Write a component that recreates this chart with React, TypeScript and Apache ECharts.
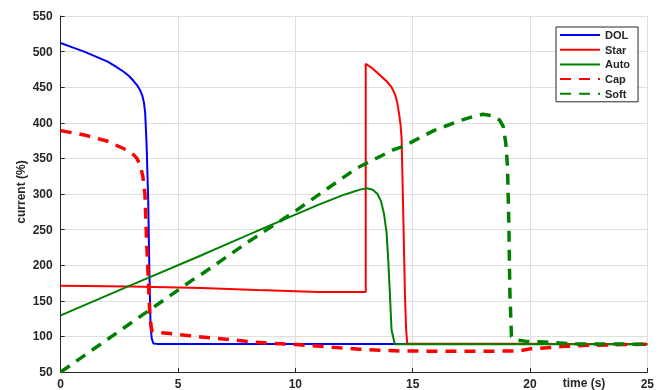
import React, { useEffect, useRef } from "react";
import * as echarts from "echarts";

const seriesNames = ["DOL", "Star", "Auto", "Cap", "Soft"];

const dolT = [0, 0.5, 1, 1.5, 2, 2.3, 2.67, 2.9, 3.1, 3.25, 3.38, 3.48, 3.55, 3.6, 3.66, 3.73, 3.78, 3.83, 3.88, 3.95, 4.1, 25];
const dolV = [512, 506, 500, 493, 486, 480, 472, 466, 459, 453, 446, 438, 428, 414, 370, 290, 190, 114, 97, 90, 89.5, 89.5];

const starT = [0, 3, 6, 8.4, 11, 13, 13, 13.3, 13.6, 13.9, 14.1, 14.25, 14.35, 14.42, 14.48, 14.53, 14.6, 14.67, 14.72, 14.77, 25];
const starV = [171, 170, 168, 165, 162.5, 162.5, 483, 476, 467, 458, 450, 440, 427, 413, 398, 378, 270, 161, 110, 90, 89];

const autoT = [0, 3, 6, 9, 11, 12, 12.5, 12.8, 13.05, 13.3, 13.5, 13.65, 13.78, 13.89, 13.96, 14.03, 14.1, 14.24, 25];
const autoV = [129.5, 172, 214, 257, 285, 298, 303.5, 306.5, 308, 306, 300, 290, 272, 245, 207, 160, 109, 89, 89];

const capT = [0, 1, 2, 2.8, 3.05, 3.25, 3.38, 3.5, 3.59, 3.66, 3.73, 3.8, 3.88, 4.02, 4.66, 5.5, 6.36, 7.35, 8.2, 9.06, 10.05, 10.9, 11.9, 12.75, 13.6, 14.6, 17, 19.5, 20, 20.7, 21.5, 22.5, 24, 25];
const capV = [389, 383, 374, 362, 357, 350, 341, 325, 300, 235, 184, 128, 108, 106, 104, 101, 98, 95, 92, 90, 88.5, 86.5, 84, 82, 80.5, 79.5, 79, 79.5, 82.5, 84, 86, 87.5, 88.5, 89];

const softT = [0, 2, 4, 5.65, 6.08, 8, 10, 12.6, 14.17, 14.6, 15.9, 17, 17.5, 18, 18.4, 18.7, 18.86, 18.97, 19.04, 19.1, 19.14, 19.21, 19.4, 19.85, 20.4, 21.1, 22, 25];
const softV = [50, 96, 142, 180, 189, 233, 276, 336, 362, 367, 389, 403, 408, 412, 410, 404, 395, 371, 339, 259, 166, 100, 95, 93, 92.5, 91, 89.5, 89];

const xTicks = [0, 5, 10, 15, 20, 25];
const yTicks = [50, 100, 150, 200, 250, 300, 350, 400, 450, 500, 550];

const zip = (t: number[], v: number[]) => t.map((x, i) => [x, v[i]]);

const FONT = "'Liberation Sans', Arial, Helvetica, sans-serif";
const AX = "#262626";

export default function App() {
  const ref = useRef<HTMLDivElement>(null);
  useEffect(() => {
    if (!ref.current) return;
    const chart = echarts.init(ref.current, undefined, { renderer: "svg" });
    const mk = (name: string, t: number[], v: number[], color: string, dashed: boolean) => ({
      name,
      type: "line",
      data: zip(t, v),
      showSymbol: false,
      symbol: "none",
      lineStyle: dashed
        ? { color, width: 3.5, type: [11, 8] }
        : { color, width: 2 },
      itemStyle: { color },
      z: 2,
    });
    chart.setOption({
      animation: false,
      grid: { left: 60.7, right: 22.7, top: 16, bottom: 17.4, containLabel: false },
      xAxis: {
        type: "value",
        min: xTicks[0],
        max: xTicks[xTicks.length - 1],
        interval: 5,
        axisLine: { show: true, lineStyle: { color: AX, width: 1 } },
        axisTick: { show: true, inside: true, length: 4, lineStyle: { color: AX } },
        axisLabel: { color: AX, fontSize: 12, fontWeight: "bold", fontFamily: FONT, margin: 6 },
        splitLine: { show: true, lineStyle: { color: "#dfdfdf", width: 1 } },
      },
      yAxis: {
        type: "value",
        min: yTicks[0],
        max: yTicks[yTicks.length - 1],
        interval: 50,
        axisLine: { show: true, lineStyle: { color: AX, width: 1 } },
        axisTick: { show: true, inside: true, length: 4, lineStyle: { color: AX } },
        axisLabel: { color: AX, fontSize: 12, fontWeight: "bold", fontFamily: FONT, margin: 8 },
        splitLine: { show: true, lineStyle: { color: "#dfdfdf", width: 1 } },
      },
      legend: {
        data: seriesNames,
        orient: "vertical",
        left: 556,
        top: 27,
        itemWidth: 40,
        itemHeight: 12,
        itemGap: 2.7,
        padding: [2, 8, 2, 3],
        borderColor: AX,
        borderWidth: 1,
        backgroundColor: "#ffffff",
        borderRadius: 0,
        itemStyle: { opacity: 0 },
        textStyle: { color: AX, fontSize: 11, fontWeight: "bold", fontFamily: FONT, lineHeight: 12 },
      },
      graphic: [
        {
          type: "text",
          x: 584,
          y: 383,
          style: { text: "time (s)", fill: AX, fontSize: 12, fontWeight: "bold", fontFamily: FONT, align: "center", verticalAlign: "middle" },
        },
        {
          type: "text",
          x: 21,
          y: 192,
          rotation: Math.PI / 2,
          style: { text: "current (%)", fill: AX, fontSize: 12, fontWeight: "bold", fontFamily: FONT, align: "center", verticalAlign: "middle" },
        },
      ],
      series: [
        mk("DOL", dolT, dolV, "#0000ff", false),
        mk("Star", starT, starV, "#ff0000", false),
        mk("Auto", autoT, autoV, "#008000", false),
        mk("Cap", capT, capV, "#ff0000", true),
        mk("Soft", softT, softV, "#008000", true),
      ],
    });
    return () => chart.dispose();
  }, []);
  return <div ref={ref} style={{ position: "fixed", left: 0, top: 0, width: 670, height: 390 }} />;
}
